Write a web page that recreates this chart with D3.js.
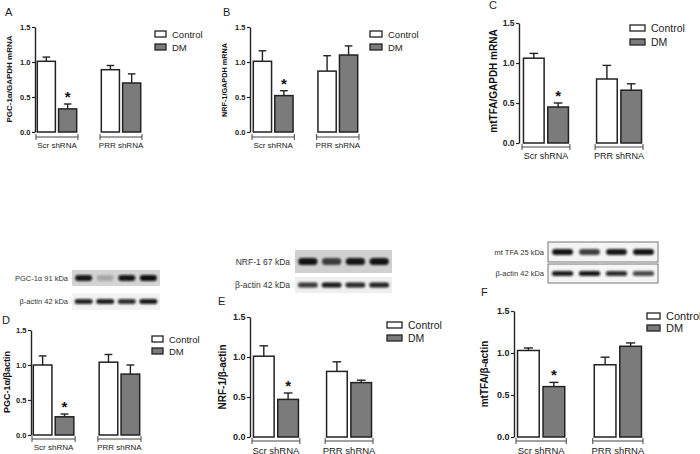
<!DOCTYPE html>
<html><head><meta charset="utf-8">
<script src="https://cdn.jsdelivr.net/npm/d3@7"></script>
<style>body{margin:0;background:#fff}svg{display:block}text{font-family:"Liberation Sans",Arial,Helvetica,sans-serif}</style>
</head><body><svg id="c" width="700" height="454"></svg>
<script>
// ---------- data ----------
const groups = ["Scr shRNA", "PRR shRNA"];
const seriesNames = ["Control", "DM"];
const yTicks = [0.0, 0.5, 1.0, 1.5];
const panelLetters = ["A", "B", "C", "D", "E", "F"];
const yLabels = ["PGC-1α/GAPDH mRNA", "NRF-1/GAPDH mRNA", "mtTFA/GAPDH mRNA",
                 "PGC-1α/βactin", "NRF-1/β-actin", "mtTFA/β-actin"];
// means and SEM per group (Scr shRNA, PRR shRNA)
const controlA = [1.01, 0.89], controlErrA = [0.06, 0.06];
const dmA      = [0.33, 0.70], dmErrA      = [0.07, 0.13];
const controlB = [1.01, 0.87], controlErrB = [0.15, 0.22];
const dmB      = [0.52, 1.10], dmErrB      = [0.07, 0.13];
const controlC = [1.06, 0.80], controlErrC = [0.06, 0.17];
const dmC      = [0.45, 0.66], dmErrC      = [0.05, 0.08];
const controlD = [1.00, 1.04], controlErrD = [0.13, 0.11];
const dmD      = [0.26, 0.87], dmErrD      = [0.04, 0.13];
const controlE = [1.01, 0.82], controlErrE = [0.13, 0.12];
const dmE      = [0.47, 0.68], dmErrE      = [0.08, 0.03];
const controlF = [1.03, 0.86], controlErrF = [0.03, 0.09];
const dmF      = [0.60, 1.08], dmErrF      = [0.05, 0.04];
const significant = ["Scr shRNA"]; // * on DM bar
// western blot band intensities (4 lanes)
const blotLabels = [["PGC-1α 91 kDa", "β-actin 42 kDa"], ["NRF-1 67 kDa", "β-actin 42 kDa"], ["mt TFA 25 kDa", "β-actin 42 kDa"]];
const pgcBands   = [0.95, 0.22, 0.95, 1.0];
const pgcActin   = [0.9, 0.92, 0.85, 0.95];
const nrfBands   = [0.97, 0.75, 0.95, 0.97];
const nrfActin   = [0.8, 0.95, 0.88, 0.9];
const tfaBands   = [0.97, 0.78, 0.95, 0.97];
const tfaActin   = [0.92, 0.95, 0.85, 0.72];

// ---------- layout ----------
const panels = [
  {c: controlA, ce: controlErrA, d: dmA, de: dmErrA, ax: 35, yT: 27, yB: 132, g: [36, 142], brY: 137, tf: 7.5, gf: 8,
   yl: [9, 79, 8], let: [5, 16], leg: [155, 31, 11, 6, 13, 9.5]},
  {c: controlB, ce: controlErrB, d: dmB, de: dmErrB, ax: 250, yT: 27, yB: 132, g: [252, 359], brY: 137, tf: 7.5, gf: 8,
   yl: [224, 80, 7.3], let: [223, 16], leg: [370, 31, 12, 6, 13, 9.5]},
  {c: controlC, ce: controlErrC, d: dmC, de: dmErrC, ax: 519, yT: 23, yB: 143, g: [522, 643], brY: 147, tf: 8.5, gf: 9,
   yl: [493, 81, 10], let: [489, 9], leg: [630, 25, 15, 6, 14, 10.5]},
  {c: controlD, ce: controlErrD, d: dmD, de: dmErrD, ax: 31, yT: 330, yB: 435, g: [32, 141], brY: 439, tf: 7.5, gf: 8,
   yl: [7, 382, 9], let: [2, 324], leg: [152, 336, 11, 6, 12, 9.5]},
  {c: controlE, ce: controlErrE, d: dmE, de: dmErrE, ax: 250, yT: 317, yB: 437, g: [252, 373], brY: 441, tf: 9, gf: 9.5,
   yl: [222, 377, 10], let: [218, 305], leg: [387, 322, 15, 6, 13, 10.5]},
  {c: controlF, ce: controlErrF, d: dmF, de: dmErrF, ax: 514, yT: 311, yB: 437, g: [516, 643], brY: 441, tf: 9, gf: 9.5,
   yl: [484, 374, 10], let: [481, 296], leg: [647, 313, 13, 6, 12, 11]}
];
const blots = [
  {lab: blotLabels[0], x: [72, 160], lx: 68, rows: [{y: [270, 286], band: pgcBands, bg: "#d4d4d4", bh: 6, bw: 0.9}, {y: [293, 310], band: pgcActin, bg: "#f2f2f2", bh: 5, bw: 0.95}], fs: 7.5, border: false},
  {lab: blotLabels[1], x: [295, 392], lx: 290, rows: [{y: [250, 273], band: nrfBands, bg: "#d0d0d0", bh: 7, bw: 0.92}, {y: [277, 293], band: nrfActin, bg: "#efefef", bh: 5, bw: 0.95}], fs: 8.5, border: false},
  {lab: blotLabels[2], x: [548, 658], lx: 544, rows: [{y: [242, 262], band: tfaBands, bg: "#f3f3f3", bh: 6, bw: 0.88}, {y: [264, 283], band: tfaActin, bg: "#f5f5f5", bh: 5, bw: 0.9}], fs: 7.5, border: true}
];

const svg = d3.select("#c");
const defs = svg.append("defs");
defs.append("filter").attr("id", "blur").attr("x", "-20%").attr("y", "-50%").attr("width", "140%").attr("height", "200%")
  .append("feGaussianBlur").attr("stdDeviation", 1.1);

const ink = "#222";
const dmFill = "#7b7b7b";

panels.forEach((p, i) => {
  const gEl = svg.append("g");
  const y = d3.scaleLinear().domain([0, 1.5]).range([p.yB, p.yT]);
  const x0 = d3.scaleBand().domain(groups).range(p.g).paddingInner(0.345).paddingOuter(0);
  const x1 = d3.scaleBand().domain(seriesNames).range([0, x0.bandwidth()]).paddingInner(0.15).paddingOuter(0.06);

  // y axis
  const axis = d3.axisLeft(y).tickValues(yTicks).tickFormat(d3.format(".1f")).tickSize(3).tickSizeOuter(0).tickPadding(1.5);
  const ag = gEl.append("g").attr("transform", `translate(${p.ax},0)`).call(axis);
  ag.select(".domain").attr("stroke", ink).attr("stroke-width", 1.4);
  ag.selectAll(".tick line").attr("stroke", ink).attr("stroke-width", 1.2);
  ag.selectAll(".tick text").attr("fill", "#222").attr("font-size", p.tf).attr("font-weight", "bold")
    .attr("font-family", "'Liberation Sans',Arial,sans-serif");

  // bars
  const rows = groups.map((gname, k) => [
    {g: gname, s: "Control", v: p.c[k], e: p.ce[k]},
    {g: gname, s: "DM", v: p.d[k], e: p.de[k]}
  ]).flat();
  const capW = x1.bandwidth() * 0.42;
  rows.forEach(r => {
    const bx = x0(r.g) + x1(r.s), bw = x1.bandwidth();
    const cx = bx + bw / 2;
    gEl.append("line").attr("x1", cx).attr("x2", cx).attr("y1", y(r.v)).attr("y2", y(r.v + r.e))
      .attr("stroke", ink).attr("stroke-width", 1.4);
    gEl.append("line").attr("x1", cx - capW / 2).attr("x2", cx + capW / 2).attr("y1", y(r.v + r.e)).attr("y2", y(r.v + r.e))
      .attr("stroke", ink).attr("stroke-width", 1.4);
    gEl.append("rect").attr("x", bx).attr("y", y(r.v)).attr("width", bw).attr("height", y(0) - y(r.v))
      .attr("fill", r.s === "Control" ? "#fff" : dmFill).attr("stroke", ink).attr("stroke-width", 1.5);
    if (r.s === "DM" && significant.includes(r.g)) {
      gEl.append("text").attr("x", cx).attr("y", y(r.v + r.e) - 2).attr("text-anchor", "middle")
        .attr("font-size", 15).attr("font-weight", "bold").attr("fill", "#111").text("*");
    }
  });

  // group brackets
  groups.forEach(gname => {
    const a = x0(gname), b = a + x0.bandwidth();
    gEl.append("path").attr("d", `M${a},${p.brY - 3}V${p.brY + 3}M${a},${p.brY}H${b}M${b},${p.brY - 3}V${p.brY + 3}`)
      .attr("fill", "none").attr("stroke", "#444").attr("stroke-width", 1);
    gEl.append("text").attr("x", (a + b) / 2).attr("y", p.brY + p.gf + 3).attr("text-anchor", "middle")
      .attr("font-size", p.gf).attr("fill", "#222").text(gname);
  });

  // y label
  gEl.append("text").attr("transform", `translate(${p.yl[0]},${p.yl[1]}) rotate(-90)`).attr("text-anchor", "middle")
    .attr("dominant-baseline", "central").attr("font-size", p.yl[2]).attr("font-weight", "bold").attr("fill", "#111")
    .text(yLabels[i]);

  // panel letter
  gEl.append("text").attr("x", p.let[0]).attr("y", p.let[1]).attr("font-size", 11).attr("fill", "#222").text(panelLetters[i]);

  // legend
  const [lx, ly, lw, lh, gap, lf] = p.leg;
  seriesNames.forEach((s, k) => {
    const yy = ly + k * gap;
    gEl.append("rect").attr("x", lx).attr("y", yy).attr("width", lw).attr("height", lh)
      .attr("fill", s === "Control" ? "#fff" : dmFill).attr("stroke", ink).attr("stroke-width", 1.3);
    gEl.append("text").attr("x", lx + lw + 6).attr("y", yy + lh / 2).attr("dominant-baseline", "central")
      .attr("font-size", lf).attr("fill", "#222").text(s);
  });
});

// western blots
blots.forEach(b => {
  const bg = svg.append("g");
  const lanes = d3.scaleBand().domain(d3.range(4)).range(b.x).paddingInner(0.12).paddingOuter(0.1);
  b.rows.forEach((row, k) => {
    bg.append("rect").attr("x", b.x[0]).attr("y", row.y[0]).attr("width", b.x[1] - b.x[0]).attr("height", row.y[1] - row.y[0])
      .attr("fill", row.bg).attr("stroke", b.border ? "#777" : "none").attr("stroke-width", 1);
    const cy = (row.y[0] + row.y[1]) / 2;
    row.band.forEach((v, j) => {
      const w = lanes.bandwidth() * row.bw;
      bg.append("rect").attr("x", lanes(j) + (lanes.bandwidth() - w) / 2).attr("y", cy - row.bh / 2)
        .attr("width", w).attr("height", row.bh).attr("rx", row.bh / 2)
        .attr("fill", "#0c0c0c").attr("opacity", v).attr("filter", "url(#blur)");
    });
    bg.append("text").attr("x", b.lx).attr("y", cy).attr("text-anchor", "end").attr("dominant-baseline", "central")
      .attr("font-size", b.fs).attr("fill", "#333").text(b.lab[k]);
  });
});
</script></body></html>
